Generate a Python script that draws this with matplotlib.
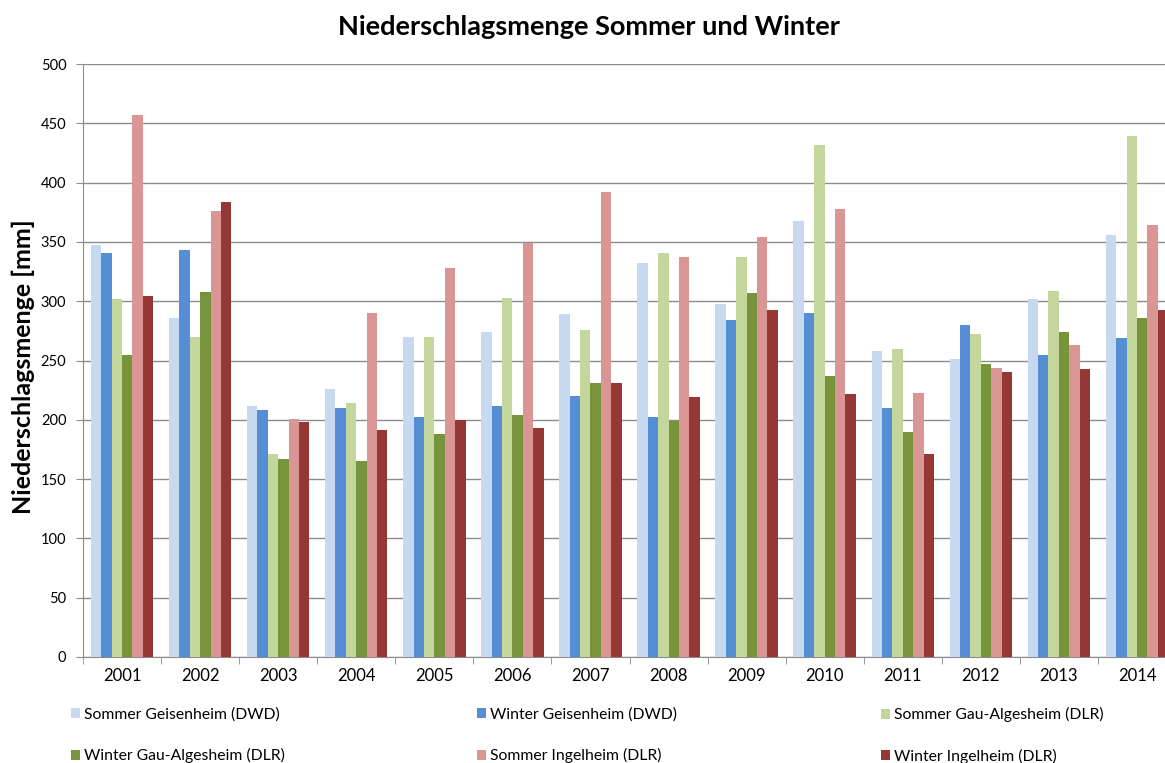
import matplotlib
matplotlib.use("Agg")
import matplotlib.pyplot as plt
import numpy as np

plt.rcParams['font.family'] = ['Lato', 'DejaVu Sans']

years = ["2001", "2002", "2003", "2004", "2005", "2006", "2007",
         "2008", "2009", "2010", "2011", "2012", "2013", "2014"]

sommer_geisenheim = [347, 286, 212, 226, 270, 274, 289, 332, 298, 368, 258, 251, 302, 356]
winter_geisenheim = [341, 343, 208, 210, 202, 212, 220, 202, 284, 290, 210, 280, 255, 269]
sommer_gau = [302, 270, 171, 214, 270, 303, 276, 341, 337, 432, 260, 272, 309, 439]
winter_gau = [255, 308, 167, 165, 188, 204, 231, 199, 307, 237, 190, 247, 274, 286]
sommer_ingelheim = [457, 376, 201, 290, 328, 349, 392, 337, 354, 378, 223, 244, 263, 364]
winter_ingelheim = [304, 384, 198, 191, 200, 193, 231, 219, 293, 222, 171, 240, 243, 293]

labels = ["Sommer Geisenheim (DWD)", "Winter Geisenheim (DWD)", "Sommer Gau-Algesheim (DLR)",
          "Winter Gau-Algesheim (DLR)", "Sommer Ingelheim (DLR)", "Winter Ingelheim (DLR)"]
colors = ["#C6D9F1", "#558ED5", "#C3D69B", "#77933C", "#D99694", "#953735"]

series = [sommer_geisenheim, winter_geisenheim, sommer_gau,
          winter_gau, sommer_ingelheim, winter_ingelheim]

fig = plt.figure(figsize=(11.65, 7.63), dpi=100)
# plot area runs slightly past the right edge, like the original
ax = fig.add_axes([83 / 1165, 1 - 657 / 763, 1093 / 1165, 593 / 763])

x = np.arange(len(years))
w = 0.8 / 6
handles = []
for i, (vals, col, lab) in enumerate(zip(series, colors, labels)):
    b = ax.bar(x - 0.4 + w * (i + 0.5), vals, width=w, color=col, label=lab, zorder=3)
    handles.append(b)

ax.set_xlim(-0.5, len(years) - 0.5)
ax.set_ylim(0, 500)
ax.set_yticks(np.arange(0, 501, 50))
ax.yaxis.grid(True, color="#8c8c8c", linewidth=1, zorder=0)
ax.set_xticks(x)
ax.set_xticklabels(years, fontsize=12)
ax.set_xticks(np.arange(-0.5, len(years)), minor=True)
ax.tick_params(axis="x", which="major", length=0, pad=8)
ax.tick_params(axis="x", which="minor", length=5, color="#8c8c8c", direction="out")
ax.tick_params(axis="y", length=5, color="#8c8c8c", labelsize=10.5, pad=7)

for s in ["top", "right"]:
    ax.spines[s].set_visible(False)
for s in ["left", "bottom"]:
    ax.spines[s].set_color("#8c8c8c")

ax.set_ylabel("Niederschlagsmenge [mm]", fontsize=18, fontweight="bold")
ax.yaxis.set_label_coords(-0.044, 0.49)
fig.text(589 / 1165, 1 - 27 / 763, "Niederschlagsmenge Sommer und Winter",
         ha="center", va="center", fontsize=19.5, fontweight="bold")

# legend: three columns of two entries each
col_x = [71, 477, 881]
for c in range(3):
    hs = [handles[c], handles[c + 3]]
    ls = [labels[c], labels[c + 3]]
    fig.legend(hs, ls, loc="upper left", bbox_to_anchor=(col_x[c] / 1165, 1 - 707 / 763),
               frameon=False, fontsize=11.3, handlelength=0.6, handleheight=0.6,
               handletextpad=0.25, labelspacing=1.7, borderaxespad=0, borderpad=0)

fig.savefig("out.png", dpi=100)
